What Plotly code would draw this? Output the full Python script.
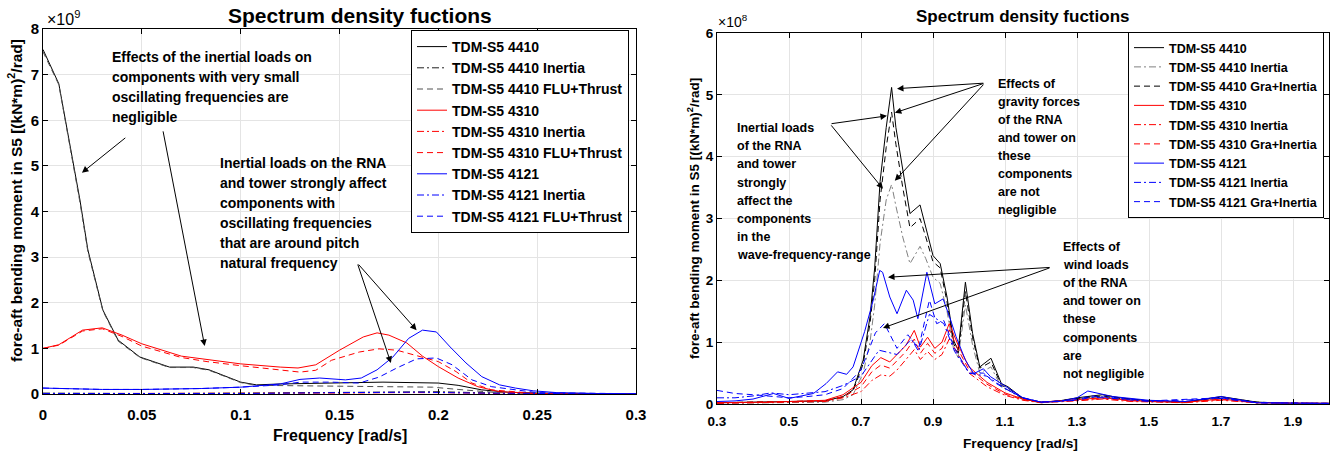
import plotly.graph_objects as go

W, H = 1333, 453

# ---------------- Left panel data (values in 1e9 (kN*m)^2/rad) ----------------
L_f_4410 = [0, 0.008, 0.0187, 0.0227, 0.0303, 0.038, 0.049, 0.064, 0.076, 0.084, 0.1, 0.108,
            0.12, 0.13, 0.15, 0.172, 0.2, 0.21, 0.222, 0.235, 0.25, 0.27, 0.3]
L_v_4410 = [7.55, 6.8, 4.25, 3.16, 1.84, 1.18, 0.81, 0.59, 0.59, 0.53, 0.26, 0.2,
            0.22, 0.23, 0.24, 0.26, 0.24, 0.19, 0.09, 0.04, 0.02, 0.01, 0.005]
L_f_4410_flu = [0, 0.008, 0.0187, 0.0227, 0.0303, 0.038, 0.049, 0.064, 0.076, 0.084, 0.1, 0.108,
                0.13, 0.16, 0.197, 0.21, 0.23, 0.25, 0.3]
L_v_4410_flu = [7.5, 6.78, 4.2, 3.12, 1.82, 1.16, 0.8, 0.58, 0.58, 0.52, 0.25, 0.19,
                0.18, 0.17, 0.15, 0.1, 0.03, 0.01, 0.005]
L_f_4410_in = [0, 0.05, 0.1, 0.15, 0.18, 0.2, 0.22, 0.25, 0.3]
L_v_4410_in = [0.02, 0.01, 0.02, 0.04, 0.05, 0.05, 0.03, 0.01, 0.005]

L_f_4310 = [0, 0.008, 0.02, 0.03, 0.04, 0.05, 0.07, 0.083, 0.1, 0.12, 0.129, 0.138, 0.15, 0.162,
            0.169, 0.175, 0.184, 0.192, 0.2, 0.21, 0.22, 0.231, 0.25, 0.3]
L_v_4310 = [1.0, 1.08, 1.4, 1.45, 1.29, 1.1, 0.83, 0.75, 0.66, 0.59, 0.57, 0.64, 0.96, 1.25,
            1.34, 1.29, 1.12, 0.83, 0.6, 0.35, 0.16, 0.05, 0.01, 0.0]
L_f_4310_flu = [0, 0.008, 0.02, 0.03, 0.04, 0.05, 0.07, 0.083, 0.1, 0.12, 0.13, 0.138, 0.146, 0.16,
                0.17, 0.179, 0.19, 0.2, 0.209, 0.217, 0.227, 0.25, 0.3]
L_v_4310_flu = [1.0, 1.07, 1.38, 1.43, 1.26, 1.05, 0.8, 0.71, 0.62, 0.53, 0.48, 0.52, 0.74, 0.92,
                0.99, 0.96, 0.83, 0.71, 0.49, 0.24, 0.09, 0.01, 0.0]
L_f_4310_in = [0, 0.1, 0.15, 0.18, 0.2, 0.23, 0.3]
L_v_4310_in = [0.01, 0.01, 0.02, 0.03, 0.03, 0.01, 0.0]

L_f_4121 = [0, 0.03, 0.05, 0.08, 0.1, 0.12, 0.13, 0.14, 0.153, 0.161, 0.169, 0.177, 0.185, 0.192,
            0.199, 0.206, 0.214, 0.222, 0.231, 0.239, 0.248, 0.26, 0.28, 0.3]
L_v_4121 = [0.13, 0.1, 0.1, 0.12, 0.15, 0.22, 0.32, 0.35, 0.31, 0.35, 0.53, 0.81, 1.22, 1.4,
            1.36, 1.03, 0.68, 0.38, 0.2, 0.13, 0.07, 0.03, 0.01, 0.005]
L_f_4121_flu = [0, 0.03, 0.05, 0.08, 0.1, 0.12, 0.13, 0.146, 0.16, 0.17, 0.179, 0.189, 0.199,
                0.207, 0.217, 0.227, 0.25, 0.3]
L_v_4121_flu = [0.13, 0.1, 0.1, 0.12, 0.15, 0.2, 0.26, 0.26, 0.24, 0.37, 0.57, 0.77, 0.79,
                0.64, 0.31, 0.16, 0.03, 0.005]
L_f_4121_in = [0, 0.1, 0.15, 0.19, 0.22, 0.3]
L_v_4121_in = [0.01, 0.01, 0.03, 0.04, 0.02, 0.0]

L_xticks = [0, 0.05, 0.1, 0.15, 0.2, 0.25, 0.3]
L_xticklabels = ["0", "0.05", "0.1", "0.15", "0.2", "0.25", "0.3"]
L_yticks = [0, 1, 2, 3, 4, 5, 6, 7, 8]

# ---------------- Right panel data (values in 1e8 (kN*m)^2/rad) ----------------
R_f_4410 = [0.3, 0.45, 0.6, 0.65, 0.678, 0.706, 0.725, 0.738, 0.753, 0.77,
            0.785, 0.797, 0.816, 0.836, 0.864, 0.88, 0.9, 0.92, 0.939, 0.957,
            0.97, 0.99, 1.01, 1.03, 1.061, 1.09, 1.108, 1.15, 1.2, 1.25,
            1.3, 1.37, 1.42, 1.5, 1.6, 1.7, 1.8, 1.9, 2.0]
R_v_4410 = [0.02, 0.03, 0.05, 0.12, 0.23, 0.71, 1.41, 2.2, 3.6, 4.47,
            5.12, 4.47, 3.77, 3.08, 3.22, 2.85, 2.4, 2.27, 1.73, 1.03,
            0.87, 1.97, 1.14, 0.6, 0.74, 0.33, 0.28, 0.09, 0.03, 0.05,
            0.1, 0.15, 0.1, 0.05, 0.03, 0.12, 0.03, 0.01, 0.01]
R_v_4410_in = [0.01, 0.02, 0.03, 0.07, 0.15, 0.5, 1.0, 1.6, 2.6, 3.3,
               3.55, 3.2, 2.7, 2.27, 2.55, 2.35, 2.05, 1.95, 1.5, 0.9,
               0.75, 1.6, 0.95, 0.5, 0.6, 0.27, 0.23, 0.07, 0.02, 0.04,
               0.08, 0.12, 0.08, 0.04, 0.02, 0.1, 0.02, 0.01, 0.01]
R_v_4410_gra = [0.02, 0.03, 0.05, 0.11, 0.21, 0.65, 1.3, 2.0, 3.3, 4.15,
                4.72, 4.2, 3.5, 2.85, 3.0, 2.7, 2.3, 2.2, 1.65, 0.98,
                0.82, 1.82, 1.07, 0.58, 0.68, 0.3, 0.26, 0.08, 0.03, 0.05,
                0.09, 0.13, 0.09, 0.05, 0.03, 0.11, 0.03, 0.01, 0.01]

R_f_4310 = [0.3, 0.45, 0.6, 0.65, 0.7, 0.73, 0.755, 0.78, 0.8, 0.825,
            0.848, 0.865, 0.885, 0.905, 0.925, 0.945, 0.97, 1.0, 1.05, 1.1,
            1.15, 1.2, 1.3, 1.37, 1.45, 1.5, 1.6, 1.7, 1.8, 2.0]
R_v_4310 = [0.02, 0.03, 0.06, 0.15, 0.35, 0.62, 0.75, 0.68, 0.8, 0.95,
            1.19, 0.92, 1.08, 0.9, 1.0, 1.3, 0.95, 0.6, 0.35, 0.18,
            0.08, 0.03, 0.07, 0.1, 0.06, 0.04, 0.03, 0.08, 0.02, 0.01]
R_v_4310_in = [0.01, 0.02, 0.04, 0.1, 0.2, 0.38, 0.47, 0.45, 0.55, 0.72,
               0.88, 0.72, 0.85, 0.72, 0.8, 1.05, 0.8, 0.5, 0.28, 0.14,
               0.06, 0.02, 0.05, 0.08, 0.04, 0.03, 0.02, 0.06, 0.02, 0.01]
R_v_4310_gra = [0.02, 0.03, 0.05, 0.12, 0.28, 0.52, 0.63, 0.58, 0.7, 0.85,
                1.05, 0.82, 0.98, 0.82, 0.9, 1.2, 0.88, 0.55, 0.32, 0.16,
                0.07, 0.03, 0.06, 0.09, 0.05, 0.04, 0.03, 0.07, 0.02, 0.01]

R_f_4121 = [0.3, 0.35, 0.4, 0.457, 0.5, 0.568, 0.603, 0.635, 0.66, 0.678,
            0.71, 0.734, 0.752, 0.76, 0.78, 0.8, 0.826, 0.845, 0.858, 0.883,
            0.905, 0.928, 0.946, 0.964, 0.99, 1.013, 1.04, 1.06, 1.09, 1.12,
            1.15, 1.2, 1.25, 1.3, 1.33, 1.4, 1.5, 1.6, 1.7, 1.8, 1.9, 2.0]
R_v_4121 = [0.04, 0.05, 0.08, 0.17, 0.09, 0.17, 0.33, 0.52, 0.48, 0.6,
            1.17, 1.68, 2.16, 2.13, 1.73, 1.46, 1.84, 1.68, 1.38, 2.13,
            1.62, 1.7, 1.41, 1.09, 0.71, 0.49, 0.57, 0.44, 0.33, 0.22,
            0.1, 0.03, 0.04, 0.1, 0.21, 0.12, 0.06, 0.04, 0.12, 0.02, 0.01, 0.01]
R_f_4121_in = [0.3, 0.35, 0.4, 0.45, 0.5, 0.55, 0.6, 0.65, 0.7, 0.75,
               0.8, 0.84, 0.86, 0.89, 0.93, 0.96, 1.0, 1.05, 1.1, 1.15,
               1.2, 1.3, 1.34, 1.4, 1.5, 1.7, 1.8, 2.0]
R_v_4121_in = [0.1, 0.1, 0.13, 0.18, 0.15, 0.18, 0.2, 0.3, 0.45, 0.87,
               0.8, 1.05, 0.85, 1.45, 1.3, 0.85, 0.5, 0.45, 0.25, 0.1,
               0.03, 0.06, 0.11, 0.09, 0.04, 0.09, 0.02, 0.01]
R_f_4121_gra = [0.3, 0.35, 0.4, 0.45, 0.5, 0.55, 0.6, 0.65, 0.7, 0.74,
                0.765, 0.8, 0.83, 0.86, 0.89, 0.91, 0.93, 0.96, 1.0, 1.04,
                1.07, 1.1, 1.15, 1.2, 1.3, 1.34, 1.4, 1.5, 1.7, 1.8, 2.0]
R_v_4121_gra = [0.22, 0.17, 0.15, 0.13, 0.1, 0.12, 0.15, 0.25, 0.55, 1.15,
                1.3, 0.9, 1.12, 0.9, 1.68, 1.3, 1.35, 0.9, 0.5, 0.5,
                0.35, 0.25, 0.1, 0.03, 0.07, 0.13, 0.1, 0.05, 0.1, 0.02, 0.01]

R_xticks = [0.3, 0.5, 0.7, 0.9, 1.1, 1.3, 1.5, 1.7, 1.9]
R_xticklabels = ["0.3", "0.5", "0.7", "0.9", "1.1", "1.3", "1.5", "1.7", "1.9"]
R_yticks = [0, 1, 2, 3, 4, 5, 6]

# ---------------- helpers ----------------
FONT = "Liberation Sans, Arial, sans-serif"
DASH = "6px,4px"
DASHDOT = "7px,3px,2px,3px"


def px(x):
    return x / W


def py(y):
    return 1 - y / H


fig = go.Figure()

left_series = [
    ("TDM-S5 4410", L_f_4410, L_v_4410, "#000000", "solid"),
    ("TDM-S5 4410 Inertia", L_f_4410_in, L_v_4410_in, "#202020", DASHDOT),
    ("TDM-S5 4410 FLU+Thrust", L_f_4410_flu, L_v_4410_flu, "#505050", DASH),
    ("TDM-S5 4310", L_f_4310, L_v_4310, "#ff0000", "solid"),
    ("TDM-S5 4310 Inertia", L_f_4310_in, L_v_4310_in, "#ff0000", DASHDOT),
    ("TDM-S5 4310 FLU+Thrust", L_f_4310_flu, L_v_4310_flu, "#ff0000", DASH),
    ("TDM-S5 4121", L_f_4121, L_v_4121, "#0000ff", "solid"),
    ("TDM-S5 4121 Inertia", L_f_4121_in, L_v_4121_in, "#0000ff", DASHDOT),
    ("TDM-S5 4121 FLU+Thrust", L_f_4121_flu, L_v_4121_flu, "#0000ff", DASH),
]
for name, xs, ys, col, dash in left_series:
    fig.add_trace(go.Scatter(x=xs, y=ys, mode="lines", name=name, xaxis="x", yaxis="y",
                             line=dict(color=col, width=1, dash=dash), legend="legend"))

right_series = [
    ("TDM-S5 4410", R_f_4410, R_v_4410, "#000000", "solid"),
    ("TDM-S5 4410 Inertia", R_f_4410, R_v_4410_in, "#808080", DASHDOT),
    ("TDM-S5 4410 Gra+Inertia", R_f_4410, R_v_4410_gra, "#000000", DASH),
    ("TDM-S5 4310", R_f_4310, R_v_4310, "#ff0000", "solid"),
    ("TDM-S5 4310 Inertia", R_f_4310, R_v_4310_in, "#ff0000", DASHDOT),
    ("TDM-S5 4310 Gra+Inertia", R_f_4310, R_v_4310_gra, "#ff0000", DASH),
    ("TDM-S5 4121", R_f_4121, R_v_4121, "#0000ff", "solid"),
    ("TDM-S5 4121 Inertia", R_f_4121_in, R_v_4121_in, "#0000ff", DASHDOT),
    ("TDM-S5 4121 Gra+Inertia", R_f_4121_gra, R_v_4121_gra, "#0000ff", DASH),
]
for name, xs, ys, col, dash in right_series:
    fig.add_trace(go.Scatter(x=xs, y=ys, mode="lines", name=name, xaxis="x2", yaxis="y2",
                             line=dict(color=col, width=1, dash=dash), legend="legend2"))

axis_common = dict(showline=True, linecolor="black", linewidth=1, mirror="ticks",
                   ticks="inside", ticklen=5, tickcolor="black", showgrid=True,
                   gridcolor="#e4e4e4", gridwidth=1, zeroline=False, automargin=False)

fig.update_layout(
    width=W, height=H, margin=dict(l=0, r=0, t=0, b=0),
    paper_bgcolor="white", plot_bgcolor="white",
    xaxis=dict(domain=[px(43), px(636)], range=[0, 0.3], tickmode="array",
               tickvals=L_xticks, ticktext=L_xticklabels, anchor="y",
               tickfont=dict(family=FONT, size=15, color="black", weight="bold"),
               ticklabelstandoff=7, **axis_common),
    yaxis=dict(domain=[py(394), py(29)], range=[0, 8], tickmode="array",
               tickvals=L_yticks, anchor="x",
               tickfont=dict(family=FONT, size=15, color="black", weight="bold"),
               **axis_common),
    xaxis2=dict(domain=[px(717), px(1329)], range=[0.3, 2.0], tickmode="array",
                tickvals=R_xticks, ticktext=R_xticklabels, anchor="y2",
                tickfont=dict(family=FONT, size=13.5, color="black", weight="bold"),
                ticklabelstandoff=5, **axis_common),
    yaxis2=dict(domain=[py(404), py(33)], range=[0, 6], tickmode="array",
                tickvals=R_yticks, anchor="x2",
                tickfont=dict(family=FONT, size=13.5, color="black", weight="bold"),
                **axis_common),
    legend=dict(x=px(411), y=py(30), xanchor="left", yanchor="top",
                bgcolor="white", bordercolor="black", borderwidth=1,
                font=dict(family=FONT, size=14, color="black", weight="bold"),
                tracegroupgap=0),
    legend2=dict(x=px(1128), y=py(32), xanchor="left", yanchor="top",
                 bgcolor="white", bordercolor="black", borderwidth=1,
                 font=dict(family=FONT, size=12.5, color="black", weight="bold"),
                 tracegroupgap=0),
)

annotations = []


def text(t, x, y, size, xanchor="left", bold=True, angle=0):
    annotations.append(dict(text=t, x=px(x), y=py(y), xref="paper", yref="paper",
                            xanchor=xanchor, yanchor="middle", showarrow=False,
                            textangle=angle,
                            font=dict(family=FONT, size=size, color="black",
                                      weight="bold" if bold else "normal")))


def block(lines, x, y0, dy, size):
    for i, t in enumerate(lines):
        text(t, x, y0 + i * dy, size)


# titles and axis labels
text("Spectrum density fuctions", 360, 16, 21, xanchor="center")
text("Spectrum density fuctions", 1022, 17, 17, xanchor="center")
text("Frequency [rad/s]", 340, 435, 16, xanchor="center")
text("Frequency [rad/s]", 1020, 443, 13.7, xanchor="center")
text("fore-aft bending moment in S5 [(kN*m)<sup>2</sup>/rad]", 15, 201, 15.5,
     xanchor="center", angle=-90)
text("fore-aft bending moment in S5 [(kN*m)<sup>2</sup>/rad]", 693, 218, 13.5,
     xanchor="center", angle=-90)
text("\u00d710<sup>9</sup>", 45, 18, 16, bold=False)
text("\u00d710<sup>8</sup>", 716, 21, 14, bold=False)

block(["Effects of the inertial loads on", "components with very small",
       "oscillating frequencies are", "negligible"], 110, 57, 20, 14)
block(["Inertial loads on the RNA", "and tower strongly affect", "components with",
       "oscillating frequencies", "that are around pitch", "natural frequency"], 218, 163, 20, 14)
block(["Inertial loads", "of the RNA", "and tower", "strongly", "affect the",
       "components", "in the", "wave-frequency-range"], 735, 128, 18.2, 12.5)
block(["Effects of", "gravity forces", "of the RNA", "and tower on", "these",
       "components", "are not", "negligible"], 996, 84, 18, 12.5)
block(["Effects of", "wind loads", "of the RNA", "and tower on", "these",
       "components", "are", "not negligible"], 1061, 247, 18.1, 12.5)

# arrows (tail -> head) in data coordinates
arrows_left = [
    ((0.0424, 5.64), (0.0197, 4.85)),
    ((0.0606, 5.79), (0.0818, 1.05)),
    ((0.159, 2.87), (0.189, 1.40)),
    ((0.159, 2.87), (0.176, 0.68)),
]
arrows_right = [
    ((0.614, 4.53), (0.772, 4.66)),
    ((0.614, 4.53), (0.761, 3.48)),
    ((1.044, 5.19), (0.800, 5.10)),
    ((1.044, 5.19), (0.794, 4.71)),
    ((1.044, 5.19), (0.794, 3.61)),
    ((1.228, 2.21), (0.775, 2.05)),
    ((1.228, 2.21), (0.761, 1.23)),
]
for arrs, xr, yr in [(arrows_left, "x", "y"), (arrows_right, "x2", "y2")]:
    for (tx, ty), (hx, hy) in arrs:
        annotations.append(dict(text="", x=hx, y=hy, ax=tx, ay=ty, xref=xr, yref=yr,
                                axref=xr, ayref=yr, showarrow=True, arrowhead=2,
                                arrowsize=1.3, arrowwidth=1, arrowcolor="black", standoff=0))

fig.update_layout(annotations=annotations)

fig.write_html("out.html")
